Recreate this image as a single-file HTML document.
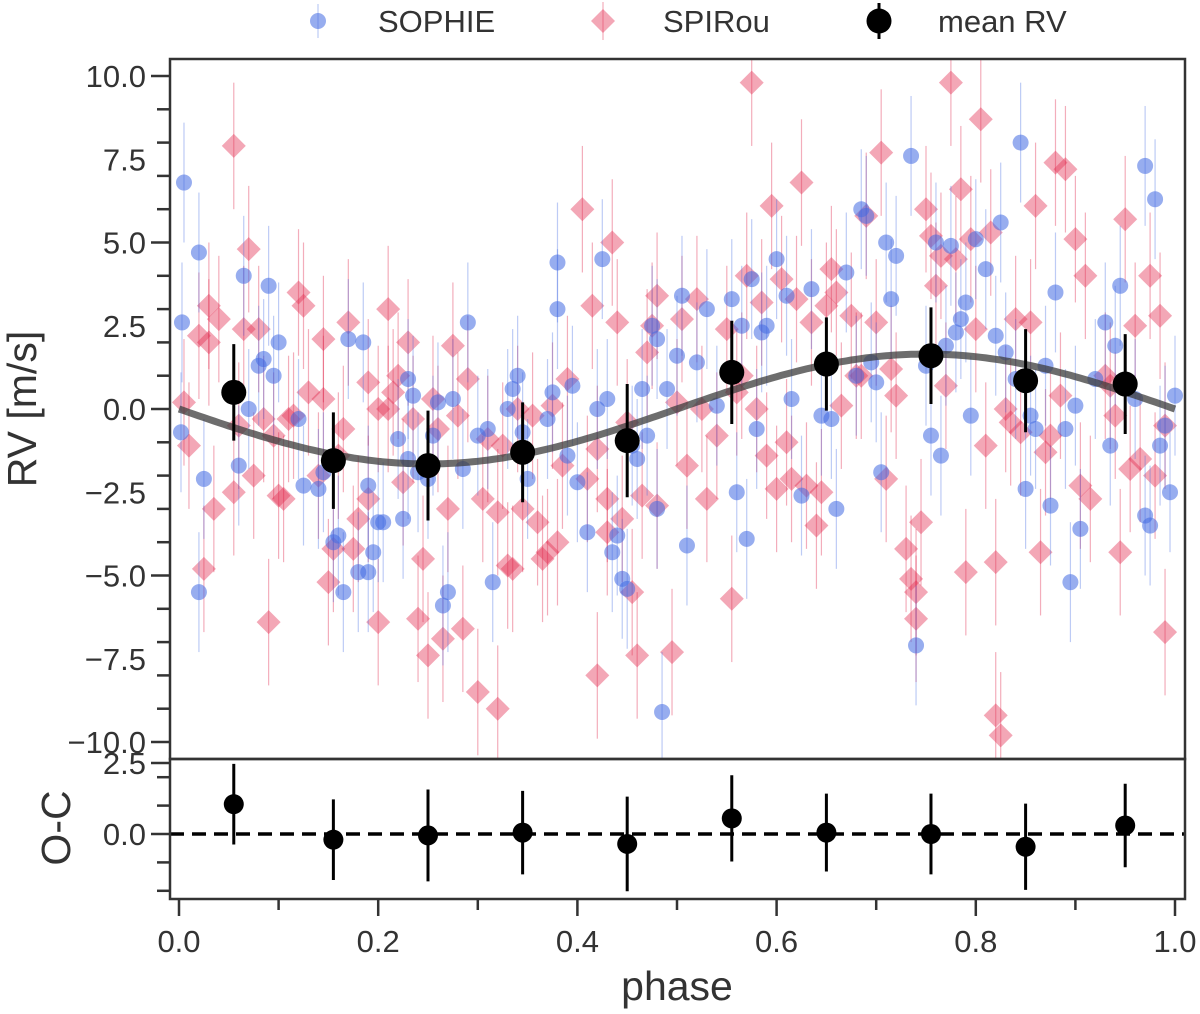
<!DOCTYPE html>
<html><head><meta charset="utf-8"><style>
html,body{margin:0;padding:0;background:#fff;}
svg{display:block;font-family:"Liberation Sans",Arial,sans-serif;}
</style></head><body>
<svg id="chart" width="1200" height="1014" viewBox="0 0 1200 1014"></svg>
<script>
const sophiePhase=[0.005,0.003,0.002,0.02,0.025,0.02,0.065,0.06,0.07,0.085,0.09,0.08,0.095,0.1,0.12,0.125,0.14,0.145,0.155,0.16,0.165,0.17,0.18,0.185,0.19,0.19,0.195,0.2,0.205,0.22,0.225,0.23,0.23,0.235,0.24,0.25,0.255,0.26,0.265,0.27,0.275,0.285,0.29,0.3,0.31,0.315,0.33,0.335,0.34,0.345,0.35,0.37,0.375,0.38,0.38,0.39,0.395,0.4,0.41,0.42,0.425,0.43,0.435,0.44,0.445,0.45,0.455,0.46,0.465,0.47,0.475,0.48,0.48,0.485,0.49,0.5,0.505,0.51,0.52,0.53,0.54,0.555,0.56,0.565,0.57,0.575,0.58,0.585,0.59,0.6,0.61,0.615,0.625,0.635,0.645,0.655,0.66,0.67,0.68,0.685,0.69,0.695,0.7,0.705,0.71,0.715,0.72,0.735,0.74,0.75,0.755,0.76,0.765,0.77,0.775,0.78,0.785,0.79,0.795,0.8,0.81,0.82,0.825,0.83,0.84,0.845,0.85,0.855,0.86,0.87,0.875,0.88,0.89,0.895,0.9,0.905,0.92,0.93,0.935,0.94,0.945,0.96,0.97,0.97,0.975,0.98,0.985,0.99,0.995,1.0];
const sophieRV=[6.8,2.6,-0.7,4.7,-2.1,-5.5,4.0,-1.7,0.0,1.5,3.7,1.3,1.0,2.0,-0.3,-2.3,-2.4,-1.9,-4.0,-3.8,-5.5,2.1,-4.9,2.0,-4.9,-2.3,-4.3,-3.4,-3.4,-0.9,-3.3,0.9,-1.5,0.4,-1.9,-2.1,-0.8,0.2,-5.9,-5.5,0.3,-1.8,2.6,-0.8,-0.6,-5.2,0.0,0.6,1.0,-0.7,-2.1,-0.3,0.5,4.4,3.0,-1.4,0.7,-2.2,-3.7,0.0,4.5,0.3,-4.3,-3.8,-5.1,-5.4,-1.1,-1.5,0.6,-0.8,2.5,2.1,-3.0,-9.1,0.6,1.6,3.4,-4.1,1.4,3.0,0.1,3.3,-2.5,2.5,-3.9,3.9,-0.6,2.3,2.5,4.5,3.4,0.3,-2.6,3.6,-0.2,-0.3,-3.0,4.1,1.0,6.0,5.8,1.4,0.8,-1.9,5.0,3.3,4.6,7.6,-7.1,1.3,-0.8,5.0,-1.4,1.9,4.9,2.3,2.7,3.2,-0.2,5.1,4.2,2.2,5.6,1.7,0.9,8.0,-2.4,-0.2,-0.6,1.3,-2.9,3.5,-0.6,-5.2,0.1,-3.6,0.9,2.6,-1.1,1.9,3.7,0.3,7.3,-3.2,-3.5,6.3,-1.1,-0.5,-2.5,0.4];
const sophieErr=[1.8];
const spirouPhase=[0.005,0.01,0.02,0.025,0.03,0.03,0.035,0.04,0.055,0.055,0.06,0.065,0.07,0.075,0.08,0.085,0.09,0.095,0.1,0.105,0.11,0.115,0.12,0.125,0.13,0.14,0.145,0.145,0.15,0.155,0.16,0.165,0.17,0.175,0.18,0.19,0.19,0.2,0.2,0.21,0.21,0.215,0.22,0.225,0.23,0.235,0.24,0.245,0.25,0.255,0.26,0.265,0.27,0.275,0.28,0.285,0.29,0.3,0.305,0.31,0.32,0.32,0.325,0.33,0.335,0.34,0.345,0.355,0.36,0.365,0.37,0.375,0.38,0.385,0.39,0.405,0.41,0.415,0.42,0.42,0.43,0.43,0.435,0.44,0.445,0.45,0.455,0.46,0.465,0.47,0.475,0.48,0.48,0.495,0.5,0.505,0.51,0.52,0.525,0.53,0.54,0.55,0.555,0.56,0.565,0.57,0.575,0.58,0.585,0.59,0.595,0.6,0.605,0.61,0.615,0.62,0.625,0.63,0.635,0.64,0.645,0.65,0.655,0.66,0.665,0.675,0.68,0.685,0.69,0.7,0.705,0.71,0.715,0.72,0.73,0.735,0.74,0.74,0.745,0.75,0.755,0.76,0.765,0.77,0.775,0.78,0.785,0.79,0.795,0.8,0.805,0.81,0.815,0.82,0.82,0.825,0.83,0.835,0.84,0.845,0.855,0.86,0.865,0.87,0.875,0.88,0.885,0.89,0.9,0.905,0.91,0.915,0.93,0.935,0.94,0.945,0.95,0.955,0.96,0.965,0.975,0.98,0.985,0.99,0.99];
const spirouRV=[0.2,-1.1,2.2,-4.8,2.0,3.1,-3.0,2.7,7.9,-2.5,-0.5,2.4,4.8,-2.0,2.4,-0.3,-6.4,-0.8,-2.6,-2.7,-0.3,-0.2,3.5,3.1,0.5,-2.0,0.3,2.1,-5.2,-4.2,-1.4,-0.6,2.6,-4.2,-3.3,-2.7,0.8,-6.4,0.0,0.0,3.0,0.5,1.0,-2.2,2.0,-0.3,-6.3,-4.5,-7.4,0.3,-0.6,-6.9,-3.0,1.9,-0.2,-6.6,0.9,-8.5,-2.7,-0.9,-9.0,-3.1,-1.1,-4.7,-4.8,0.0,-3.0,-0.2,-3.4,-4.5,-4.3,0.1,-4.0,-1.7,0.9,6.0,-2.1,3.1,-8.0,-1.2,-2.7,-3.7,5.0,2.6,-3.3,-0.4,-5.5,-7.4,-2.6,1.7,2.5,3.4,-2.9,-7.3,0.2,2.7,-1.7,3.3,0.0,-2.7,-0.8,2.4,-5.7,0.5,1.0,4.0,9.8,0.0,3.2,-1.4,6.1,-2.4,3.9,-1.0,-2.1,3.3,6.8,-2.3,2.6,-3.5,-2.5,3.1,4.2,3.5,0.1,2.8,1.0,1.0,5.8,2.6,7.7,-2.1,1.2,0.4,-4.2,-5.1,-5.5,-6.3,-3.4,6.0,5.2,3.7,4.6,0.7,9.8,4.5,6.6,-4.9,5.1,2.4,8.7,-1.1,5.3,-4.6,-9.2,-9.8,0.0,-0.4,2.7,-0.7,2.6,6.1,-4.3,-1.3,-0.8,7.4,0.4,7.2,5.1,-2.3,4.0,-2.7,1.0,0.7,-0.2,-4.3,5.7,-1.8,2.5,-1.5,4.0,-2.0,2.8,-6.7,-0.5];
const spirouErr=[1.9];
const meanPhase=[0.055,0.155,0.25,0.345,0.45,0.555,0.65,0.755,0.85,0.95];
const meanRV=[0.5,-1.55,-1.7,-1.3,-0.95,1.1,1.35,1.6,0.85,0.75];
const meanErr=[1.45,1.45,1.65,1.5,1.7,1.55,1.4,1.45,1.55,1.5];
const ocRV=[1.05,-0.2,-0.05,0.05,-0.35,0.55,0.05,0.0,-0.45,0.3];
const modelAmp=[1.65];
const yTicks=["10.0","7.5","5.0","2.5","0.0","−2.5","−5.0","−7.5","−10.0"];
const ocTicks=["2.5","0.0"];
const xTicks=["0.0","0.2","0.4","0.6","0.8","1.0"];

const svg=document.getElementById('chart');
const NS='http://www.w3.org/2000/svg';
function mk(tag,attrs,parent){const e=document.createElementNS(NS,tag);for(const k in attrs)e.setAttribute(k,attrs[k]);(parent||svg).appendChild(e);return e;}
const L=170,R=1185,T=59,MB=759,B=899;
const xS=p=>179+p*996;
const yS=v=>409-v*33.3;
const oS=v=>834-v*28.4;

const defs=mk('defs',{});
const cp=mk('clipPath',{id:'cm'},defs);mk('rect',{x:L,y:T,width:R-L,height:MB-T},cp);
const cp2=mk('clipPath',{id:'co'},defs);mk('rect',{x:L,y:MB,width:R-L,height:B-MB},cp2);
const gMain=mk('g',{'clip-path':'url(#cm)'});



for(let i=0;i<spirouPhase.length;i++){
  const x=xS(spirouPhase[i]),y=yS(spirouRV[i]),e=spirouErr[0]*33.3;
  const g=mk('g',{},gMain);
  
  
  mk('line',{x1:x,x2:x,y1:y-e,y2:y+e,stroke:'rgba(220,20,60,0.35)','stroke-width':1.2},g);
  mk('path',{d:`M${x} ${y-12}L${x+12} ${y}L${x} ${y+12}L${x-12} ${y}Z`,fill:'rgba(226,45,80,0.42)'},g);
}
for(let i=0;i<sophiePhase.length;i++){
  const x=xS(sophiePhase[i]),y=yS(sophieRV[i]),e=sophieErr[0]*33.3;
  const g=mk('g',{},gMain);
  
  
  mk('line',{x1:x,x2:x,y1:y-e,y2:y+e,stroke:'rgba(65,105,225,0.35)','stroke-width':1.2},g);
  mk('circle',{cx:x,cy:y,r:8,fill:'rgba(65,105,225,0.55)'},g);
}
let d='';for(let k=0;k<=200;k++){const p=k/200;d+=(k?'L':'M')+xS(p).toFixed(1)+' '+yS(-modelAmp[0]*Math.sin(2*Math.PI*p)).toFixed(1);}
const model=mk('path',{d:d,fill:'none',stroke:'rgba(60,60,60,0.75)','stroke-width':7},gMain);


for(let i=0;i<meanPhase.length;i++){
  const x=xS(meanPhase[i]),y=yS(meanRV[i]),e=meanErr[i]*33.3;
  const g=mk('g',{},gMain);
  
  
  mk('line',{x1:x,x2:x,y1:y-e,y2:y+e,stroke:'#000','stroke-width':3},g);
  mk('circle',{cx:x,cy:y,r:12.5,fill:'#000'},g);
}
const gO=mk('g',{'clip-path':'url(#co)'});


const zl=mk('line',{x1:L,x2:R,y1:oS(0),y2:oS(0),stroke:'#000','stroke-width':3.5,'stroke-dasharray':'14,8'},gO);


for(let i=0;i<meanPhase.length;i++){
  const x=xS(meanPhase[i]),y=oS(ocRV[i]),e=meanErr[i]*28.4*0.98;
  const g=mk('g',{},gO);
  
  
  mk('line',{x1:x,x2:x,y1:y-e,y2:y+e,stroke:'#000','stroke-width':3},g);
  mk('circle',{cx:x,cy:y,r:10,fill:'#000'},g);
}
const f1=mk('rect',{x:L,y:T,width:R-L,height:MB-T,fill:'none',stroke:'#333','stroke-width':2.5});

const f2=mk('rect',{x:L,y:MB,width:R-L,height:B-MB,fill:'none',stroke:'#333','stroke-width':2.5});

for(let v=-10;v<=10;v+=1){const y=yS(v);const maj=(v%2.5===0);mk('line',{x1:maj?151:157,x2:L,y1:y,y2:y,stroke:'#333','stroke-width':2.5});}
for(let i=0;i<yTicks.length;i++){const v=10-2.5*i;const t=mk('text',{x:146,y:yS(v)+11,'text-anchor':'end','font-size':31,fill:'#333'});t.textContent=yTicks[i];
}
[2.5,0].forEach(v=>mk('line',{x1:151,x2:L,y1:oS(v),y2:oS(v),stroke:'#333','stroke-width':2.5}));
[2,1,-1,-2].forEach(v=>mk('line',{x1:157,x2:L,y1:oS(v),y2:oS(v),stroke:'#333','stroke-width':2.5}));
for(let i=0;i<ocTicks.length;i++){const v=parseFloat(ocTicks[i]);const t=mk('text',{x:146,y:oS(v)+11,'text-anchor':'end','font-size':31,fill:'#333'});t.textContent=ocTicks[i];
}
for(let k=0;k<=10;k++){const x=xS(k/10);mk('line',{x1:x,x2:x,y1:B,y2:B+(k%2?11:17),stroke:'#333','stroke-width':2.5});}
for(let i=0;i<xTicks.length;i++){const t=mk('text',{x:xS(i*0.2),y:952,'text-anchor':'middle','font-size':31,fill:'#333'});t.textContent=xTicks[i];
}
let t=mk('text',{x:677,y:1000,'text-anchor':'middle','font-size':41,fill:'#333'});t.textContent='phase';

t=mk('text',{x:0,y:0,'text-anchor':'middle','font-size':41,fill:'#333',transform:'translate(36,409) rotate(-90)'});t.textContent='RV [m/s]';

t=mk('text',{x:0,y:0,'text-anchor':'middle','font-size':41,fill:'#333',transform:'translate(70,828) rotate(-90)'});t.textContent='O-C';

const lg=mk('g',{});
let e1=mk('g',{},lg);
mk('line',{x1:318,x2:318,y1:4,y2:38,stroke:'rgba(65,105,225,0.35)','stroke-width':1.2},e1);
mk('circle',{cx:318,cy:21,r:8,fill:'rgba(65,105,225,0.55)'},e1);
t=mk('text',{x:378,y:32,'font-size':31,fill:'#333'},e1);t.textContent='SOPHIE';
let e2=mk('g',{},lg);
mk('line',{x1:603,x2:603,y1:2,y2:40,stroke:'rgba(220,20,60,0.35)','stroke-width':1.2},e2);
mk('path',{d:'M603 9L615 21L603 33L591 21Z',fill:'rgba(226,45,80,0.42)'},e2);
t=mk('text',{x:663,y:32,'font-size':31,fill:'#333'},e2);t.textContent='SPIRou';
let e3=mk('g',{},lg);
mk('line',{x1:879,x2:879,y1:3,y2:39,stroke:'#000','stroke-width':3},e3);
mk('circle',{cx:879,cy:21,r:12.5,fill:'#000'},e3);
t=mk('text',{x:938,y:32,'font-size':31,fill:'#333'},e3);t.textContent='mean RV';
</script>
</body></html>
